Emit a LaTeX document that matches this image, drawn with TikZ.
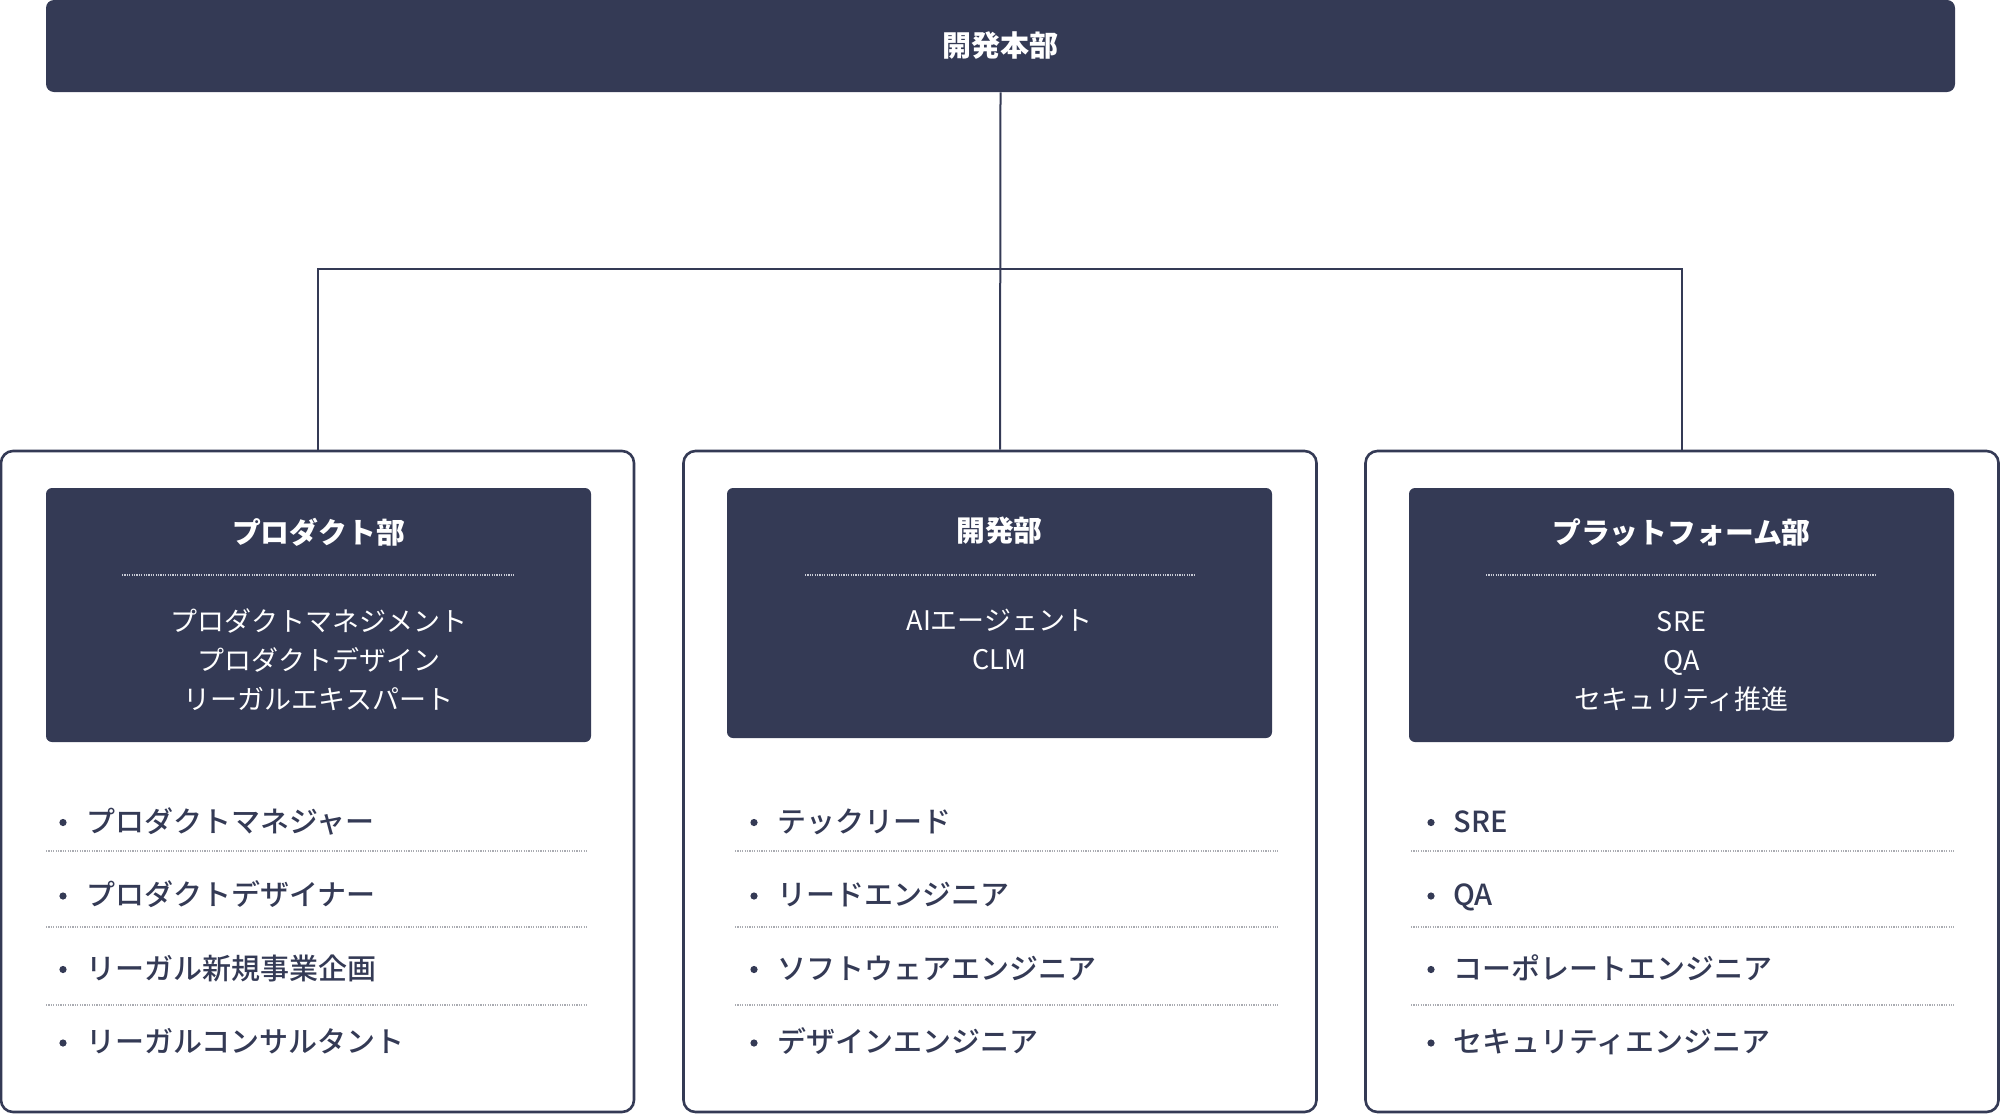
\documentclass[tikz,border=0pt]{standalone}
\usepackage{fontspec}
\setmainfont{Noto Sans CJK JP}
\newfontfamily\jpmed{Noto Sans CJK JP Medium}
\usetikzlibrary{calc}
\definecolor{navy}{RGB}{52,58,85}
\definecolor{sepgray}{RGB}{170,172,178}
\definecolor{dotwhite}{RGB}{200,203,214}
\tikzset{
  outerbox/.style={draw=navy, line width=1.3pt, rounded corners=6pt, fill=white,
    minimum width=316.5pt, minimum height=330.5pt, inner sep=0pt},
  innerbox/.style={fill=navy, rounded corners=3pt, minimum width=272.5pt, inner sep=0pt},
  topbar/.style={fill=navy, rounded corners=4pt, minimum width=954.5pt, minimum height=46pt,
    inner sep=0pt, text=white, font=\fontsize{14.5}{16}\selectfont\bfseries},
  conn/.style={draw=navy, line width=1pt},
  title/.style={text=white, font=\fontsize{14.4}{16}\selectfont\bfseries, inner sep=0pt,
    text height=12.7pt, text depth=1.7pt},
  sub/.style={text=white, font=\fontsize{13.5}{19.5}\selectfont, inner sep=0pt,
    text height=11.9pt, text depth=1.6pt},
  item/.style={text=navy, font=\fontsize{14.5}{16}\jpmed\selectfont, anchor=west, inner sep=0pt,
    text height=12.8pt, text depth=1.7pt},
  bulletdot/.style={fill=navy},
  sep/.style={draw=sepgray, line width=0.6pt, dash pattern=on 0.6pt off 0.6pt},
  wsep/.style={draw=dotwhite, line width=0.6pt, dash pattern=on 0.6pt off 0.6pt},
}
\begin{document}
\begin{tikzpicture}[x=0.5pt,y=-0.5pt]
\useasboundingbox (0,0) rectangle (2000,1114);
% top
\node[topbar] (top) at (1000.5,46) {開発本部};
% outer boxes
\node[outerbox] (box1) at (317.5,781.5) {};
\node[outerbox] (box2) at (1000,781.5) {};
\node[outerbox] (box3) at (1682,781.5) {};
% connectors
\coordinate (j) at (1000,269);
\draw[conn] (top.south) -- (box2.north);
\draw[conn] (box1.north) |- (j) -| (box3.north);
% inner boxes
\node[innerbox, minimum height=127pt] (in1) at (318.5,615) {};
\node[innerbox, minimum height=125pt] (in2) at (999.5,613) {};
\node[innerbox, minimum height=127pt] (in3) at (1681.5,615) {};
% titles
\node[title] (t1) at (318.5,532) {プロダクト部};
\node[title] (t2) at (999.5,530) {開発部};
\node[title] (t3) at (1681.5,532) {プラットフォーム部};
% white dotted lines
\draw[wsep] (122,575) -- (514,575);
\draw[wsep] (805,575) -- (1194,575);
\draw[wsep] (1486,575) -- (1877,575);
% sub items (one node per line)
\node[sub] (s1a) at (318.5,621) {プロダクトマネジメント};
\node[sub] (s1b) at (318.5,660) {プロダクトデザイン};
\node[sub] (s1c) at (318.5,699) {リーガルエキスパート};
\node[sub] (s2a) at (999.5,620) {AIエージェント};
\node[sub] (s2b) at (999.5,659) {CLM};
\node[sub] (s3a) at (1681.5,621) {SRE};
\node[sub] (s3b) at (1681.5,660) {QA};
\node[sub] (s3c) at (1681.5,699) {セキュリティ推進};
% bullets
\foreach \y in {821,894.5,968,1041.5} {
  \fill[bulletdot] (63,\y+1.5) circle (3.6);
  \fill[bulletdot] (754,\y+1.5) circle (3.6);
  \fill[bulletdot] (1431,\y+1.5) circle (3.6);
}
\node[item] (a1) at (86,821) {プロダクトマネジャー};
\node[item] (a2) at (86,894.5) {プロダクトデザイナー};
\node[item] (a3) at (86,968) {リーガル新規事業企画};
\node[item] (a4) at (86,1041.5) {リーガルコンサルタント};
\node[item] (b1) at (777,821) {テックリード};
\node[item] (b2) at (777,894.5) {リードエンジニア};
\node[item] (b3) at (777,968) {ソフトウェアエンジニア};
\node[item] (b4) at (777,1041.5) {デザインエンジニア};
\node[item] (c1) at (1453,821) {SRE};
\node[item] (c2) at (1453,894.5) {QA};
\node[item] (c3) at (1453,968) {コーポレートエンジニア};
\node[item] (c4) at (1453,1041.5) {セキュリティエンジニア};
% separators
\foreach \y in {851,927,1005} {
  \draw[sep] (46,\y) -- (587,\y);
  \draw[sep] (735,\y) -- (1278,\y);
  \draw[sep] (1411,\y) -- (1954,\y);
}
\end{tikzpicture}
\end{document}
